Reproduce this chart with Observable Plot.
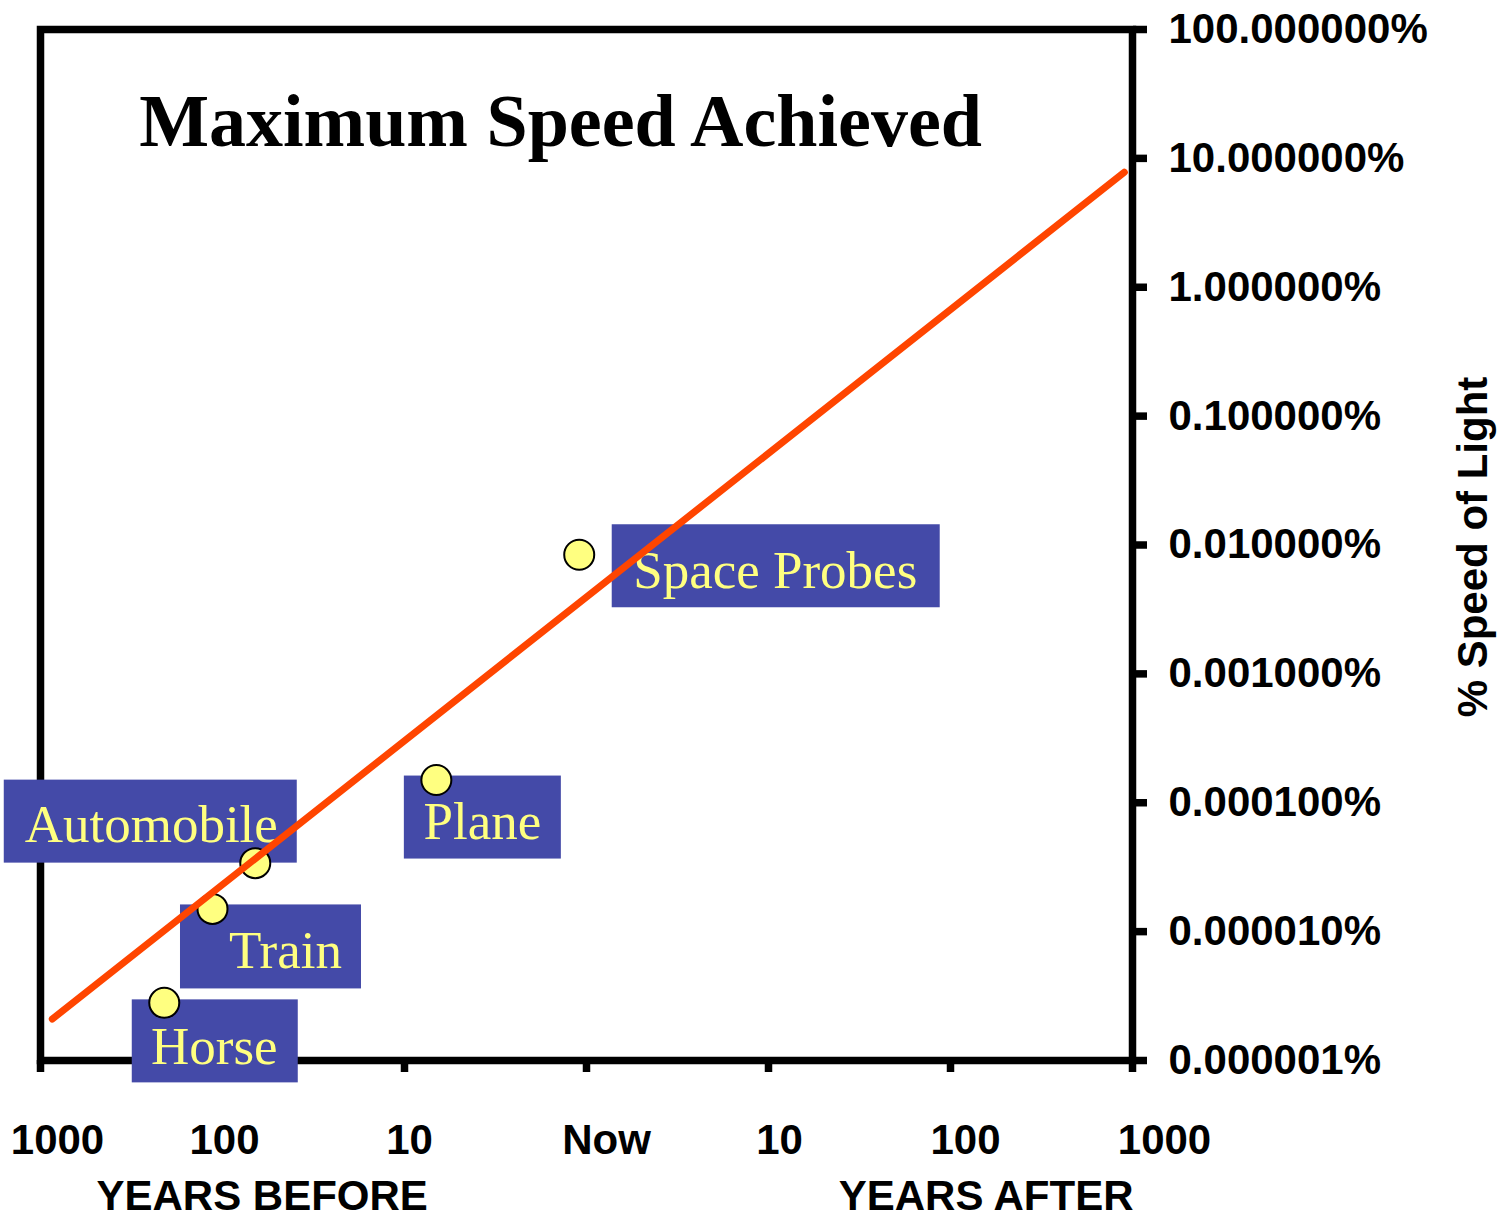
<!DOCTYPE html>
<html>
<head>
<meta charset="utf-8">
<script src="https://cdn.jsdelivr.net/npm/d3@7"></script>
<script src="https://cdn.jsdelivr.net/npm/@observablehq/plot@0.6"></script>
<style>
  html, body { margin: 0; padding: 0; background: #fff; }
</style>
</head>
<body>
<div id="chart"></div>
<script>
// Vehicles and the top speed each reached, in percent of the speed of light
const vehicles = ["Horse", "Train", "Automobile", "Plane", "Space Probes"];
// Position on the time axis, in decades from now (negative = years before)
const timeDecades = [-2.32, -2.055, -1.82, -0.825, -0.04];
const pctLight = [2.8e-6, 1.5e-5, 3.4e-5, 1.5e-4, 8.4e-3];

// Straight-line trend (in log-log space) through the record speeds
const trendDecades = [-2.935, 2.955];
const trendPct = [2.1e-6, 7.8];

// Axis ticks
const xTickValues = [-3, -2, -1, 0, 1, 2, 3];
const xTickLabels = ["1000", "100", "10", "Now", "10", "100", "1000"];
const yTickValues = [1e-6, 1e-5, 1e-4, 1e-3, 1e-2, 1e-1, 1, 10, 100];

// ---- layout and style ----
const SANS = "'Liberation Sans', Arial, Helvetica, sans-serif";
const SERIF = "'Liberation Serif', 'Times New Roman', Times, serif";
const BOX = "#444aa8";
const YELLOW = "#ffff80";
const TREND = "#ff4500";
const LINE_W = 7.5;

// Callout boxes, in pixels relative to their point: box corner/size and text anchor
const callout = {
  "Horse":        {x: -32,  y: -3,  w: 166, h: 83, tx: 50,   ty: 61},
  "Train":        {x: -32,  y: -4,  w: 181, h: 84, tx: 73,   ty: 59},
  "Automobile":   {x: -251, y: -83, w: 293, h: 83, tx: -104, ty: -21},
  "Plane":        {x: -32,  y: -4,  w: 157, h: 83, tx: 46,   ty: 59},
  "Space Probes": {x: 33,   y: -30, w: 328, h: 83, tx: 196,  ty: 33}
};
const xTickNudge = [17, 2, 5, 20, 11, 15, 32];

const rows = vehicles.map((name, i) => ({name, t: timeDecades[i], pct: pctLight[i]}));
const trend = trendDecades.map((t, i) => ({t, pct: trendPct[i]}));

// Filled callout rectangles placed next to each point via the plot's scales
const calloutBoxes = (index, {x, y}) => {
  const g = d3.create("svg:g").attr("fill", BOX);
  for (const r of rows) {
    const b = callout[r.name];
    g.append("rect")
      .attr("x", x(r.t) + b.x)
      .attr("y", y(r.pct) + b.y)
      .attr("width", b.w)
      .attr("height", b.h);
  }
  return g.node();
};

const chart = Plot.plot({
  width: 1501,
  height: 1225,
  marginTop: 29,
  marginRight: 369,
  marginBottom: 165,
  marginLeft: 40,
  style: {fontFamily: SANS, fontWeight: "bold", color: "black", background: "white"},
  x: {type: "linear", domain: [-3, 3]},
  y: {type: "log", domain: [1e-6, 100]},
  marks: [
    Plot.frame({stroke: "black", strokeWidth: LINE_W}),
    Plot.axisX({
      ticks: xTickValues, tickSize: 12, tickFormat: () => "",
      strokeWidth: LINE_W, label: null
    }),
    Plot.axisY({
      anchor: "right", ticks: yTickValues, tickSize: 14, tickPadding: 22,
      tickFormat: d => d.toFixed(6) + "%",
      fontSize: 42, fontWeight: "bold", fontFamily: SANS,
      strokeWidth: LINE_W, label: null
    }),
    // time tick labels
    ...xTickValues.map((v, i) => Plot.text([v], {
      x: d => d, frameAnchor: "bottom", text: () => xTickLabels[i],
      dx: xTickNudge[i], dy: 93, lineAnchor: "bottom", textAnchor: "middle",
      fontSize: 42, fontWeight: "bold", fontFamily: SANS, fill: "black"
    })),
    Plot.text(["YEARS BEFORE"], {
      frameAnchor: "bottom-left", text: d => d, dx: 56, dy: 149,
      lineAnchor: "bottom", textAnchor: "start",
      fontSize: 42, fontWeight: "bold", fontFamily: SANS, fill: "black"
    }),
    Plot.text(["YEARS AFTER"], {
      frameAnchor: "bottom-right", text: d => d, dx: 1, dy: 149,
      lineAnchor: "bottom", textAnchor: "end",
      fontSize: 42, fontWeight: "bold", fontFamily: SANS, fill: "black"
    }),
    Plot.text(["% Speed of Light"], {
      frameAnchor: "right", text: d => d, rotate: -90, dx: 354, dy: 2,
      lineAnchor: "bottom", textAnchor: "middle",
      fontSize: 42, fontWeight: "bold", fontFamily: SANS, fill: "black"
    }),
    Plot.text(["Maximum Speed Achieved"], {
      frameAnchor: "top", text: d => d, dx: -26, dy: 116,
      lineAnchor: "bottom", textAnchor: "middle",
      fontSize: 74, fontWeight: "bold", fontFamily: SERIF, fill: "black"
    }),
    calloutBoxes,
    ...rows.map(r => Plot.text([r], {
      x: "t", y: "pct", text: "name",
      dx: callout[r.name].tx, dy: callout[r.name].ty,
      lineAnchor: "bottom", textAnchor: "middle",
      fontSize: 53, fontWeight: "normal", fontFamily: SERIF, fill: YELLOW
    })),
    Plot.dot(rows, {x: "t", y: "pct", r: 15, fill: YELLOW, stroke: "black", strokeWidth: 2}),
    Plot.line(trend, {x: "t", y: "pct", stroke: TREND, strokeWidth: 7})
  ]
});

document.getElementById("chart").append(chart);
</script>
</body>
</html>
